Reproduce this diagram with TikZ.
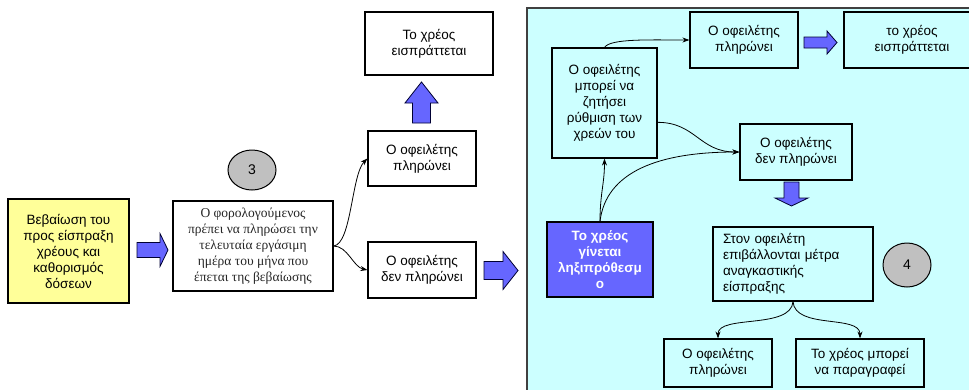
\documentclass[tikz,border=0pt]{standalone}
\usepackage{fontspec}
\setmainfont{Liberation Sans}
\newfontfamily\timesgr{Liberation Serif}
\usetikzlibrary{arrows.meta,shapes.geometric}
\definecolor{panelcyan}{HTML}{CCFFFF}
\definecolor{noteyellow}{HTML}{FFFF99}
\definecolor{arrowblue}{HTML}{6666FF}
\definecolor{circgray}{HTML}{C0C0C0}
\def\harrow(#1,#2,#3,#4,#5,#6){\draw[blockarrow] (#1,#4-#5) -- (#3,#4-#5) -- (#3,#4-#6) -- (#2,#4) -- (#3,#4+#6) -- (#3,#4+#5) -- (#1,#4+#5) -- cycle;}
\def\varrow(#1,#2,#3,#4,#5,#6){\draw[blockarrow] (#1-#5,#2) -- (#1-#5,#4) -- (#1-#6,#4) -- (#1,#3) -- (#1+#6,#4) -- (#1+#5,#4) -- (#1+#5,#2) -- cycle;}

\begin{document}
\begin{tikzpicture}[x=1pt,y=-1pt,
	box/.style={draw,line width=1.2pt,fill=white,align=center,inner sep=0pt,font=\fontsize{13.5}{16}\selectfont},
	numcirc/.style={ellipse,draw,line width=1pt,fill=circgray,inner sep=0pt,font=\fontsize{14}{16}\selectfont},
	blockarrow/.style={draw=black!80!blue,line width=0.8pt,fill=arrowblue},
	link/.style={line width=0.8pt,-{Stealth[length=7pt,width=5pt]}}]
			%%%%% START %%%%%
			
			\useasboundingbox (0,0) rectangle (969,389);
			\clip (0,0) rectangle (969,389);
			\fill[white] (0,0) rectangle (969,389);
			
			\node[box,fill=noteyellow,minimum width=121pt,minimum height=104pt] (cert) at (68.5,251) {Βεβαίωση του\\προς είσπραξη\\χρέους και\\καθορισμός\\δόσεων};
			\harrow(137,168,160,250,7.5,16.5)
			
			\node[box,minimum width=160pt,minimum height=90pt,font=\timesgr\fontsize{13.5}{16}\selectfont,text=black!85] (deadline) at (253,246) {Ο φορολογούμενος\\πρέπει να πληρώσει την\\τελευταία εργάσιμη\\ημέρα του μήνα που\\έπεται της βεβαίωσης};
			\node[numcirc,minimum width=48pt,minimum height=40pt] (numthree) at (252,170) {3};
			
			\node[box,minimum width=108pt,minimum height=55pt] (paidone) at (422,158.5) {Ο οφειλέτης\\πληρώνει};
			\node[box,minimum width=108pt,minimum height=56pt] (unpaidone) at (422,270) {Ο οφειλέτης\\δεν πληρώνει};
			\node[box,minimum width=128pt,minimum height=63pt] (collectone) at (429,43.5) {Το χρέος\\εισπράττεται};
			\varrow(421.5,123,82,103,9,16.5)
			\harrow(484,518,503,270.5,9,19)
			
			\draw[link] (deadline.east) .. controls +(18,-2) and +(-16,16) .. (paidone.west);
			\draw[link] (deadline.east) .. controls +(14,0) and +(-14,-3) .. (unpaidone.west);
			
			\draw[line width=2pt,draw=black!75,fill=panelcyan] (527,8) rectangle (990,400);
			
			\node[box,fill=panelcyan,minimum width=105pt,minimum height=110pt] (regul) at (604.5,103) {Ο οφειλέτης\\μπορεί να\\ζητήσει\\ρύθμιση των\\χρεών του};
			\node[box,fill=panelcyan,minimum width=108pt,minimum height=56pt] (paidtwo) at (744,40) {Ο οφειλέτης\\πληρώνει};
			\node[box,fill=panelcyan,minimum width=136pt,minimum height=56pt] (collecttwo) at (912,40) {το χρέος\\εισπράττεται};
			\harrow(804,837,827,42.5,5.5,11.5)
			
			\node[box,fill=panelcyan,minimum width=112pt,minimum height=56pt] (unpaidtwo) at (796,152) {Ο οφειλέτης\\δεν πληρώνει};
			\varrow(791.5,182,206,198,7.5,16.5)
			
			\node[box,fill=arrowblue,text=white,minimum width=106pt,minimum height=75pt,font=\bfseries\fontsize{13.5}{16}\selectfont] (overdue) at (600,259.5) {Το χρέος\\γίνεται\\ληξιπρόθεσμ\\ο};
			\node[box,fill=panelcyan,minimum width=160pt,minimum height=74pt,align=left,text width=140pt] (forced) at (793,264) {Στον οφειλέτη\\επιβάλλονται μέτρα\\αναγκαστικής\\είσπραξης};
			\node[numcirc,minimum width=48pt,minimum height=44pt] (numfour) at (907,265) {4};
			
			\node[box,fill=panelcyan,minimum width=108pt,minimum height=48pt] (paidthree) at (718,363) {Ο οφειλέτης\\πληρώνει};
			\node[box,fill=panelcyan,minimum width=128pt,minimum height=48pt] (lapse) at (860,363) {Το χρέος μπορεί\\να παραγραφεί};
			
			\draw[link] (regul.north) .. controls +(6,-9) and +(-40,0) .. (paidtwo.west);
			\draw[link] (regul.-20) .. controls +(38,0) and +(-40,0) .. (unpaidtwo.west);
			\draw[link] (overdue.north) .. controls +(0,-28) and +(0,25) .. (regul.south);
			\draw[link] (overdue.north) .. controls +(6,-50) and +(-80,0) .. (unpaidtwo.west);
			\draw[link] (forced.south) .. controls +(-2,28) and +(0,-24) .. (paidthree.north);
			\draw[link] (forced.south) .. controls +(2,28) and +(0,-24) .. (lapse.north);
			
			%%%%% END %%%%%
\end{tikzpicture}
\end{document}
